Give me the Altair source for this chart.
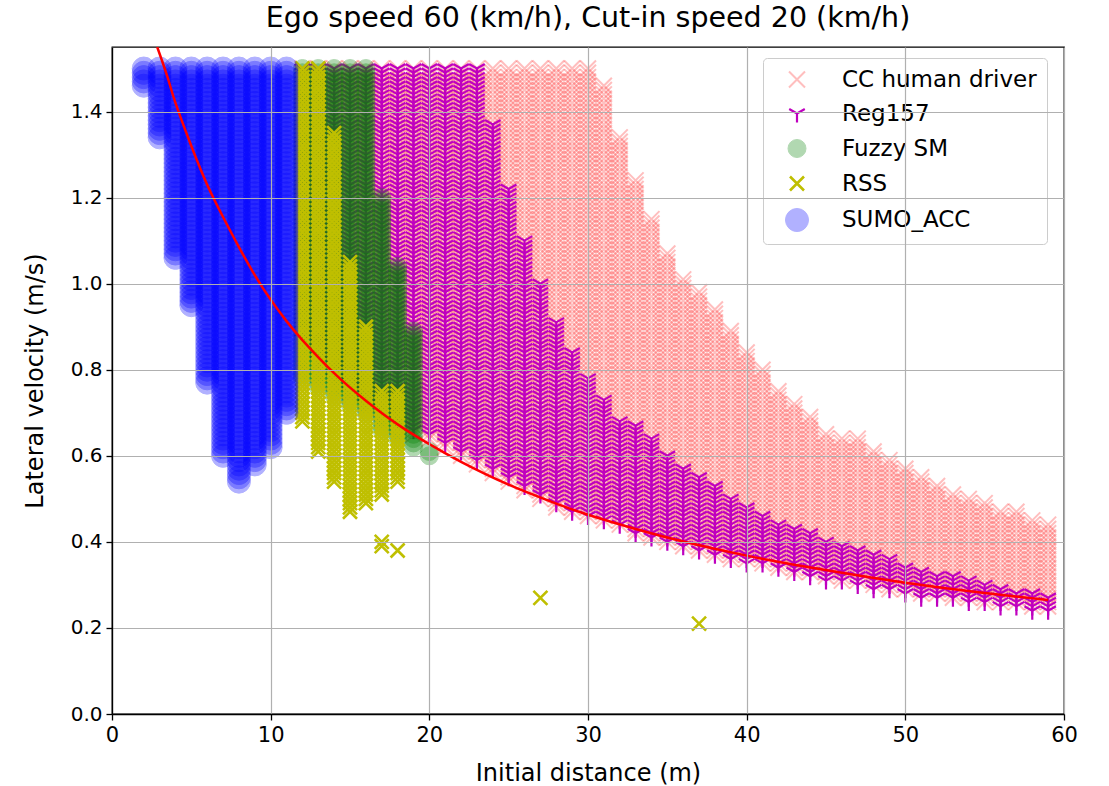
import altair as alt
import pandas as pd

# ---------------- data ----------------
SERIES = ["CC human driver", "Reg157", "Fuzzy SM", "RSS", "SUMO_ACC"]
COLORS = ["#ff0000", "#bf00bf", "#008000", "#bfbf00", "#0000ff"]

# velocity grid step of the scanned scenarios (m/s)
V_STEP = 0.01

# CC human driver: per distance, lowest and highest safe lateral velocity
CC_D = list(range(12, 60))
CC_LO = [0.86, 0.81, 0.77, 0.74, 0.71, 0.70, 0.67, 0.65, 0.64, 0.62, 0.60, 0.58,
         0.56, 0.54, 0.52, 0.50, 0.48, 0.47, 0.46, 0.45, 0.44, 0.42, 0.41, 0.40,
         0.39, 0.38, 0.37, 0.36, 0.36, 0.35, 0.34, 0.33, 0.33, 0.32, 0.31, 0.31,
         0.30, 0.29, 0.29, 0.28, 0.28, 0.27, 0.27, 0.26, 0.26, 0.26, 0.25, 0.25]
CC_HI = [1.50, 1.50, 1.50, 1.50, 1.50, 1.50, 1.50, 1.50, 1.50, 1.50, 1.50, 1.50,
         1.50, 1.50, 1.50, 1.50, 1.50, 1.50, 1.50, 1.46, 1.34, 1.24, 1.15, 1.07,
         1.01, 0.98, 0.94, 0.89, 0.84, 0.80, 0.75, 0.72, 0.69, 0.65, 0.64, 0.64,
         0.61, 0.59, 0.57, 0.55, 0.53, 0.51, 0.50, 0.49, 0.47, 0.47, 0.45, 0.44]

# Reg157
REG_D = list(range(12, 60))
REG_LO = [0.87, 0.82, 0.78, 0.75, 0.72, 0.71, 0.68, 0.66, 0.65, 0.63, 0.61, 0.59,
          0.57, 0.55, 0.53, 0.51, 0.49, 0.47, 0.46, 0.45, 0.44, 0.42, 0.41, 0.40,
          0.39, 0.38, 0.37, 0.36, 0.35, 0.35, 0.34, 0.33, 0.32, 0.31, 0.31, 0.30,
          0.29, 0.29, 0.28, 0.27, 0.27, 0.27, 0.26, 0.26, 0.25, 0.25, 0.24, 0.24]
REG_HI = [1.50, 1.50, 1.50, 1.50, 1.50, 1.50, 1.50, 1.50, 1.50, 1.50, 1.50, 1.50,
          1.37, 1.22, 1.10, 1.00, 0.91, 0.84, 0.78, 0.73, 0.68, 0.67, 0.64, 0.60,
          0.57, 0.55, 0.53, 0.50, 0.48, 0.46, 0.44, 0.43, 0.42, 0.40, 0.39, 0.38,
          0.37, 0.36, 0.34, 0.33, 0.32, 0.32, 0.31, 0.30, 0.29, 0.28, 0.28, 0.27]

# Fuzzy SM
FUZZY_D = [12, 13, 14, 15, 16, 17, 18, 19, 20]
FUZZY_LO = [0.78, 0.76, 0.74, 0.72, 0.70, 0.66, 0.64, 0.62, 0.60]
FUZZY_HI = [1.50, 1.50, 1.50, 1.50, 1.50, 1.20, 1.04, 0.89, 0.61]

# RSS
RSS_D = [12, 13, 14, 15, 16, 17, 18]
RSS_LO = [0.68, 0.61, 0.54, 0.47, 0.49, 0.51, 0.54]
RSS_HI = [1.50, 1.50, 1.35, 1.05, 0.90, 0.75, 0.75]
RSS_EXTRA_D = [17, 17, 18, 27, 37]
RSS_EXTRA_V = [0.40, 0.39, 0.38, 0.27, 0.21]

# SUMO_ACC
SUMO_D = [2, 3, 4, 5, 6, 7, 8, 9, 10, 11]
SUMO_LO = [1.46, 1.34, 1.06, 0.95, 0.77, 0.60, 0.54, 0.58, 0.62, 0.70]
SUMO_HI = [1.50, 1.50, 1.50, 1.50, 1.50, 1.50, 1.50, 1.50, 1.50, 1.50]

# red threshold curve
LINE_D = [2.85, 3.5, 4, 5, 6, 7, 8, 9, 10, 11, 12, 14, 16, 18, 20, 22, 25, 28,
          30, 33, 36, 40, 43, 46, 50, 55, 59]
LINE_V = [1.55, 1.48, 1.42, 1.32, 1.23, 1.155, 1.085, 1.02, 0.963, 0.913, 0.869,
          0.792, 0.728, 0.673, 0.627, 0.586, 0.533, 0.489, 0.463, 0.43, 0.401,
          0.368, 0.347, 0.328, 0.305, 0.281, 0.265]

# ---------------- build the table ----------------
rows = []


def add_ranges(name, ds, los, his):
    for d, lo, hi in zip(ds, los, his):
        k0 = int(round(lo / V_STEP))
        k1 = int(round(hi / V_STEP))
        for k in range(k0, k1 + 1):
            rows.append({"series": name, "d": d, "v": round(k * V_STEP, 2)})


add_ranges("CC human driver", CC_D, CC_LO, CC_HI)
add_ranges("Reg157", REG_D, REG_LO, REG_HI)
add_ranges("Fuzzy SM", FUZZY_D, FUZZY_LO, FUZZY_HI)
add_ranges("RSS", RSS_D, RSS_LO, RSS_HI)
for d, v in zip(RSS_EXTRA_D, RSS_EXTRA_V):
    rows.append({"series": "RSS", "d": d, "v": v})
add_ranges("SUMO_ACC", SUMO_D, SUMO_LO, SUMO_HI)

df = pd.DataFrame(rows)
line_df = pd.DataFrame({"d": LINE_D, "v": LINE_V})

X_PATH = "M-1,-1L1,1M-1,1L1,-1"
TRI_DOWN = "M0,0L0,1M0,0L-0.866,-0.5M0,0L0.866,-0.5"
SHAPES = [X_PATH, TRI_DOWN, "circle", X_PATH, "circle"]
SIZES = [256, 324, 324, 196, 529]
OPAC = [0.25, 1.0, 0.3, 1.0, 0.3]
SWIDTH = [2.0, 2.2, 1.0, 2.6, 1.0]

FONT = "DejaVu Sans"

xaxis = alt.Axis(values=[0, 10, 20, 30, 40, 50, 60], title="Initial distance (m)",
                 grid=True, zindex=1, labelFontSize=21, titleFontSize=24,
                 tickSize=6, labelPadding=4, titlePadding=16, labelFlush=False)
yaxis = alt.Axis(values=[0, 0.2, 0.4, 0.6, 0.8, 1.0, 1.2, 1.4], format=".1f",
                 title="Lateral velocity (m/s)", grid=True, zindex=1,
                 labelFontSize=20, titleFontSize=24, tickSize=6,
                 labelPadding=4, titlePadding=23, labelFlush=False)

xs = alt.Scale(domain=[0, 60], nice=False, zero=False)
ys = alt.Scale(domain=[0, 1.55], nice=False)

points = alt.Chart(df).mark_point(filled=True, clip=True).encode(
    x=alt.X("d:Q", scale=xs, axis=xaxis),
    y=alt.Y("v:Q", scale=ys, axis=yaxis),
    color=alt.Color("series:N", title=None,
                    scale=alt.Scale(domain=SERIES, range=COLORS)),
    stroke=alt.Stroke("series:N", title=None,
                      scale=alt.Scale(domain=SERIES, range=COLORS)),
    shape=alt.Shape("series:N", title=None,
                    scale=alt.Scale(domain=SERIES, range=SHAPES)),
    size=alt.Size("series:N", title=None,
                  scale=alt.Scale(type="ordinal", domain=SERIES, range=SIZES)),
    opacity=alt.Opacity("series:N", title=None,
                        scale=alt.Scale(type="ordinal", domain=SERIES, range=OPAC)),
    strokeWidth=alt.StrokeWidth("series:N", title=None,
                                scale=alt.Scale(type="ordinal", domain=SERIES, range=SWIDTH)),
)

curve = alt.Chart(line_df).mark_line(color="#ff0000", strokeWidth=2.5,
                                     interpolate="natural", clip=True).encode(
    x=alt.X("d:Q", scale=xs),
    y=alt.Y("v:Q", scale=ys),
)

chart = alt.layer(points, curve).properties(
    width=952,
    height=667,
    autosize=alt.AutoSizeParams(type="none"),
    padding={"left": 112, "top": 47, "right": 45, "bottom": 72},
    title=alt.TitleParams("Ego speed 60 (km/h), Cut-in speed 20 (km/h)",
                          fontSize=28.5, font=FONT, fontWeight="normal",
                          color="black", anchor="middle", offset=15),
).configure(
    font=FONT,
).configure_view(
    stroke="black", strokeWidth=1.3,
).configure_axis(
    labelFont=FONT, titleFont=FONT, labelColor="black", titleColor="black",
    titleFontWeight="normal", tickColor="black", tickWidth=1.3,
    domainColor="black", domainWidth=1.3, gridColor="#b0b0b0", gridWidth=1.2,
).configure_legend(
    orient="none", legendX=651, legendY=11, padding=10,
    fillColor="rgba(255,255,255,0.8)", strokeColor="#cccccc", cornerRadius=4,
    labelFont=FONT, labelFontSize=23, labelColor="black", rowPadding=10,
    symbolOffset=12, labelOffset=33, labelLimit=400,
)

chart.save("out.html", embed_options={"renderer": "svg", "actions": False})
